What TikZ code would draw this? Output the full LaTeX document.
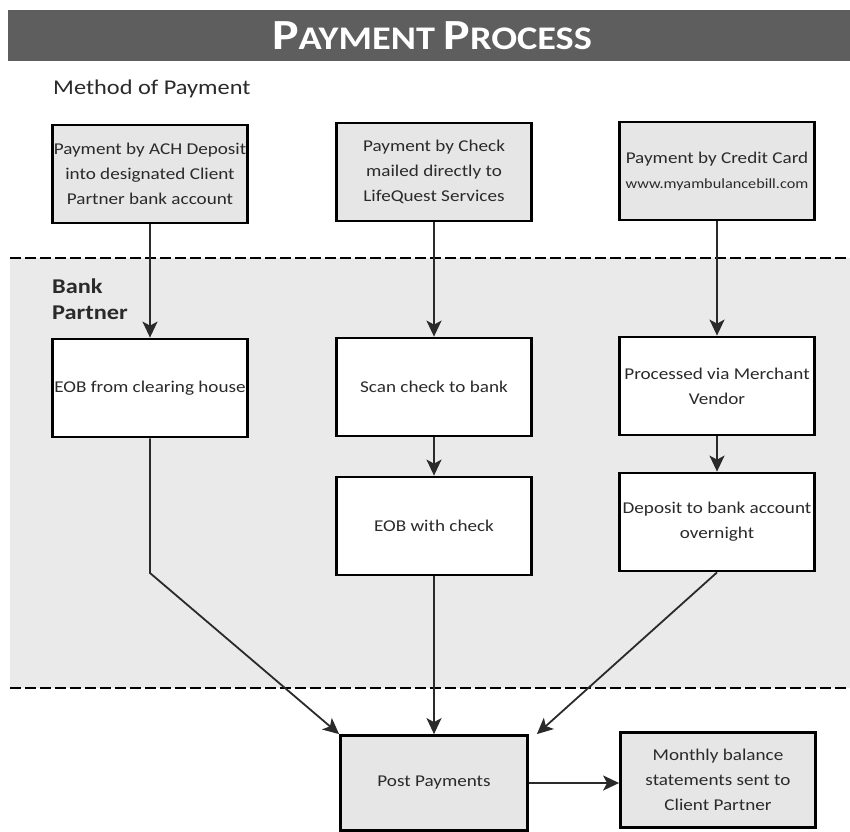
\documentclass[tikz,border=0pt]{standalone}
\usepackage{fontspec}
\setmainfont{Carlito}[FakeStretch=1.16]
\usetikzlibrary{arrows.meta,positioning}

\definecolor{barGray}{HTML}{5E5E5E}
\definecolor{boxGray}{HTML}{E6E6E6}
\definecolor{zoneGray}{HTML}{EAEAEA}
\definecolor{inkGray}{HTML}{2A2A2A}

\begin{document}
\begin{tikzpicture}[x=1pt,y=-1pt]
	\tikzstyle{every node}+=[inner sep=0pt, text=inkGray]
	\tikzstyle{pbox}=[draw=black, line width=2.8pt, minimum width=195pt, minimum height=98pt, align=center, font=\fontsize{16.5}{25}\selectfont]
	\tikzstyle{greybox}=[pbox, fill=boxGray]
	\tikzstyle{plainbox}=[pbox, fill=white]
	\tikzstyle{flow}=[draw=inkGray, line width=1.8pt, -{Stealth[length=16pt,width=15pt,inset=4pt]}]
	\useasboundingbox (0,0) rectangle (850,831);
	% title bar and bank zone
	\fill [barGray] (8,10) rectangle (850,61);
	\node [text=white, font=\bfseries] (title) at (432,36) {{\fontsize{43}{43}\selectfont P}{\fontsize{33}{33}\selectfont AYMENT }{\fontsize{43}{43}\selectfont P}{\fontsize{33}{33}\selectfont ROCESS}};
	\fill [zoneGray] (10,258) rectangle (850,688);
	\draw [black, line width=2.6pt, dash pattern=on 11pt off 4pt] (10,258) -- (850,258);
	\draw [black, line width=2.6pt, dash pattern=on 11pt off 4pt] (10,688) -- (850,688);
	\node [anchor=west, font=\fontsize{21}{21}\selectfont] (method) at (53,89) {Method of Payment};
	\node [anchor=north west, align=left, font=\fontsize{21}{26}\selectfont\bfseries] (bank) at (52,279) {Bank\\Partner};
	% payment methods
	\node [greybox] (ach) at (150,174) {Payment by ACH Deposit\\into designated Client\\Partner bank account};
	\node [greybox] (chk) at (434,172) {Payment by Check\\mailed directly to\\LifeQuest Services};
	\node [greybox] (card) at (717,171) {Payment by Credit Card\\{\fontsize{14}{18}\selectfont www.myambulancebill.com}};
	% bank partner steps
	\node [plainbox] (clear) at (150,388) {EOB from clearing house};
	\node [plainbox] (scan) at (434,387) {Scan check to bank};
	\node [plainbox] (merch) at (717,386) {Processed via Merchant\\Vendor};
	\node [plainbox] (eob) at (434,526) {EOB with check};
	\node [plainbox] (dep) at (717,522) {Deposit to bank account\\overnight};
	% posting
	\node [greybox, minimum width=187pt, minimum height=95pt] (post) at (434,783) {Post Payments};
	\node [greybox, minimum height=95pt] (stmt) at (718,780) {Monthly balance\\statements sent to\\Client Partner};
	\coordinate (clearbend) at (150,573);
	\coordinate (postne) at ([xshift=8pt]post.north east);
	\draw [flow] (ach) -- (clear);
	\draw [flow] (chk) -- (scan);
	\draw [flow] (card) -- (merch);
	\draw [flow] (scan) -- (eob);
	\draw [flow] (merch) -- (dep);
	\draw [flow] (clear) -- (clearbend) -- (post.north west);
	\draw [flow] (eob) -- (post);
	\draw [flow] (dep.south) -- (postne);
	\draw [flow] (post.east) -- (post.east -| stmt.west);
\end{tikzpicture}
\end{document}
